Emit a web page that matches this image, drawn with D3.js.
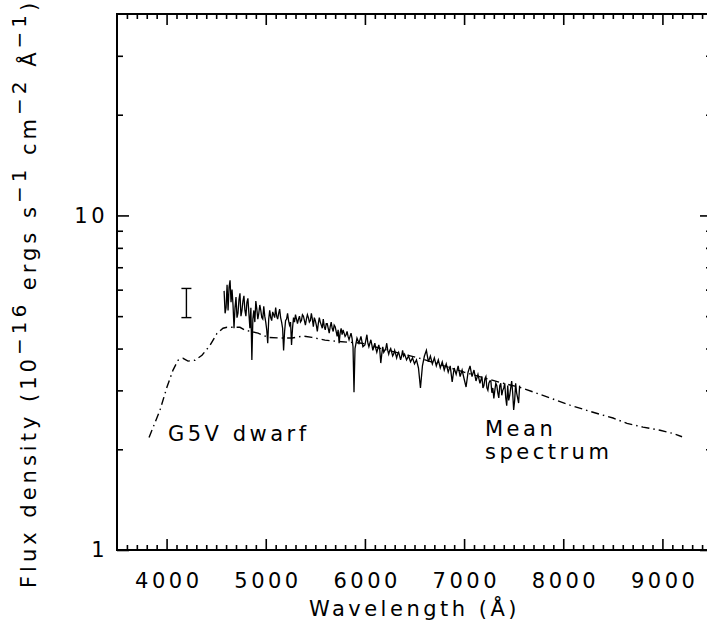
<!DOCTYPE html>
<html>
<head>
<meta charset="utf-8">
<script src="https://cdn.jsdelivr.net/npm/d3@7"></script>
<style>
    body { margin: 0; background: #fff; }
    text { font-family: "DejaVu Sans", sans-serif; font-size: 21px; letter-spacing: 3.5px; fill: #000; }
</style>
</head>
<body>
<svg id="chart" width="707" height="626"></svg>
<script>
// tick values
const xMajorTicks = [4000, 5000, 6000, 7000, 8000, 9000];
const yMajorTicks = [1, 10];
const yMinorTicks = [2, 3, 4, 5, 6, 7, 8, 9, 20, 30];

// G5V dwarf template (dash-dot), [wavelength, flux]
const g5vTemplate = [
    [3823, 2.17], [3934, 2.62], [4004, 3.07], [4065, 3.45], [4115, 3.69], [4166, 3.74],
    [4216, 3.67], [4287, 3.69], [4357, 3.82], [4438, 4.09], [4508, 4.44], [4569, 4.60],
    [4609, 4.63], [4740, 4.63], [4791, 4.54], [4922, 4.45], [5023, 4.32], [5164, 4.30],
    [5265, 4.30], [5376, 4.36], [5466, 4.32], [5597, 4.24], [5698, 4.21], [5829, 4.18],
    [5971, 4.15], [6152, 4.01], [6556, 3.74], [7000, 3.40], [7362, 3.17], [7584, 3.05],
    [8068, 2.71], [8300, 2.58], [8502, 2.48], [8643, 2.39], [8804, 2.33], [8976, 2.28],
    [9107, 2.23], [9198, 2.18]
];

// mean observed spectrum, [wavelength, flux]
const meanSpectrum = [
    [4580, 5.95], [4590, 5.10], [4600, 5.30], [4610, 6.20], [4620, 5.20], [4630, 6.10], [4640, 6.40], [4650, 5.50], [4660, 6.00],
    [4670, 5.40], [4680, 4.60], [4690, 5.30], [4700, 5.70], [4710, 4.95], [4720, 5.10], [4730, 5.60], [4740, 5.85], [4750, 5.00],
    [4760, 5.20], [4770, 5.55], [4780, 5.75], [4790, 5.20], [4800, 5.00], [4810, 5.50], [4820, 5.65], [4830, 5.10], [4840, 4.60],
    [4850, 5.30], [4860, 3.70], [4870, 4.90], [4880, 5.20], [4890, 4.80], [4900, 5.55], [4910, 5.25], [4920, 4.90], [4930, 5.10],
    [4940, 5.40], [4950, 5.20], [4960, 4.95], [4970, 4.90], [4980, 5.35], [4990, 5.00],
    [5000, 4.80], [5010, 4.55], [5020, 4.15], [5030, 4.90], [5040, 5.20], [5050, 4.95], [5060, 4.85], [5070, 5.15], [5080, 5.05],
    [5090, 4.95], [5100, 5.30], [5110, 5.00], [5120, 4.90], [5130, 5.10], [5140, 5.25], [5150, 4.95], [5160, 4.80], [5170, 4.60],
    [5180, 3.95], [5190, 4.50], [5200, 4.85], [5210, 4.90], [5220, 5.10], [5230, 4.85], [5240, 4.70], [5250, 4.80], [5260, 4.10],
    [5270, 4.60], [5280, 4.95], [5290, 4.80], [5300, 5.05], [5310, 4.90], [5320, 4.75], [5330, 4.90], [5340, 5.00], [5350, 4.80],
    [5360, 4.85], [5370, 5.05], [5380, 5.00], [5390, 4.85], [5400, 4.70], [5410, 4.90], [5420, 5.05], [5430, 4.95], [5440, 4.80],
    [5450, 4.85], [5460, 5.10], [5470, 4.90], [5480, 4.65], [5490, 4.95], [5500, 4.85], [5510, 4.70], [5520, 4.50], [5530, 4.75],
    [5540, 4.95], [5550, 4.80], [5560, 4.70], [5570, 4.60], [5580, 4.90], [5590, 4.65], [5600, 4.55], [5610, 4.75], [5620, 4.75],
    [5630, 4.60], [5640, 4.45], [5650, 4.65], [5660, 4.80], [5670, 4.60], [5680, 4.50], [5690, 4.70], [5700, 4.65], [5710, 4.50],
    [5720, 4.35], [5730, 4.55], [5740, 4.15], [5750, 4.45], [5760, 4.60], [5770, 4.40], [5780, 4.55], [5790, 4.45], [5800, 4.35],
    [5810, 4.40], [5820, 4.50], [5830, 4.35], [5840, 4.25], [5850, 4.35], [5860, 4.45], [5870, 4.30], [5880, 4.05], [5890, 2.96],
    [5900, 4.00], [5920, 4.30], [5940, 4.15], [5960, 4.35], [5980, 4.05],
    [6000, 4.10], [6010, 4.25], [6020, 4.40], [6030, 4.15], [6040, 4.05], [6050, 4.15], [6060, 4.25], [6070, 4.10], [6080, 3.95],
    [6090, 4.05], [6100, 4.15], [6110, 4.00], [6120, 3.90], [6130, 4.00], [6140, 4.10], [6150, 3.95], [6160, 3.62], [6170, 3.85],
    [6180, 4.05], [6190, 3.90], [6200, 3.95], [6210, 4.00], [6220, 4.15], [6230, 3.95], [6240, 3.85], [6250, 3.95], [6260, 4.00],
    [6270, 3.90], [6280, 3.80], [6290, 3.85], [6300, 3.95], [6310, 3.85], [6320, 3.75], [6330, 3.85], [6340, 3.90], [6350, 3.80],
    [6360, 3.70], [6370, 3.80], [6380, 3.95], [6390, 3.80],
    [6400, 3.85], [6420, 3.70], [6440, 3.80], [6460, 3.65], [6480, 3.75], [6500, 3.60], [6520, 3.70], [6540, 3.50], [6560, 3.05], [6580, 3.55],
    [6600, 3.80], [6620, 3.95], [6640, 3.65], [6660, 3.80], [6680, 3.60], [6700, 3.75], [6720, 3.55], [6740, 3.70], [6760, 3.50], [6780, 3.65],
    [6800, 3.45], [6820, 3.60], [6840, 3.40], [6860, 3.55], [6880, 3.18], [6900, 3.50], [6920, 3.35], [6940, 3.55], [6960, 3.30], [6980, 3.45],
    [7000, 3.25], [7020, 3.07], [7040, 3.40], [7060, 3.55], [7080, 3.30], [7100, 3.45], [7120, 3.20], [7140, 3.35], [7160, 3.15], [7180, 3.30],
    [7190, 3.05], [7200, 3.10], [7210, 3.25], [7220, 3.30], [7230, 3.05], [7240, 3.00], [7250, 3.15], [7260, 3.20], [7270, 3.20], [7280, 2.95],
    [7290, 3.05], [7300, 2.84], [7310, 3.00], [7320, 3.15], [7330, 3.10], [7340, 2.95], [7350, 2.85], [7360, 3.10], [7370, 3.15], [7380, 2.90],
    [7390, 3.00], [7400, 3.05], [7410, 3.15], [7420, 2.85], [7430, 2.70], [7440, 3.10], [7450, 2.80], [7460, 2.90], [7470, 3.05], [7480, 3.20],
    [7490, 2.95], [7500, 2.62], [7510, 2.80], [7520, 3.15], [7530, 2.95], [7540, 2.85], [7550, 2.75], [7560, 3.10]
];

// typical error bar
const errorBars = [{wave: 4200, low: 4.95, high: 6.05}];

// text labels anchored in data coordinates
const labels = [
    {text: "G5V dwarf", wave: 4014, flux: 2.12},
    {text: "Mean", wave: 7211, flux: 2.19},
    {text: "spectrum", wave: 7211, flux: 1.87}
];

var svg = d3.select("#chart"),
    margin = {top: 14, right: -5, bottom: 76, left: 117},
    width = +svg.attr("width"),
    height = +svg.attr("height");

svg.append("rect").attr("width", width).attr("height", height).attr("fill", "#fff");

var x = d3.scaleLinear()
    .domain([3500, 9500])
    .range([margin.left, width - margin.right]);

var y = d3.scaleLog()
    .domain([1, 40])
    .range([height - margin.bottom, margin.top]);

var x0 = margin.left, x1 = width - margin.right,
    y0 = height - margin.bottom, y1 = margin.top;

var xMinorTicks = d3.range(3600, 9500, 100).filter(function(d) { return d % 1000 !== 0; });

svg.append("clipPath").attr("id", "plot-clip")
    .append("rect")
    .attr("x", x0).attr("y", y1)
    .attr("width", x1 - x0).attr("height", y0 - y1);

// axes, IDL style with inward ticks on all four sides
function styleAxis(g) {
    g.selectAll(".domain").remove();
    g.selectAll(".tick line").attr("stroke", "#000").attr("stroke-width", 1.6);
    g.selectAll(".tick text").attr("font-family", null).attr("font-size", null).attr("fill", "#000");
}

svg.append("g")
    .attr("transform", "translate(0," + y0 + ")")
    .call(d3.axisBottom(x).tickValues(xMajorTicks).tickSize(-11).tickPadding(23).tickFormat(d3.format("d")))
    .call(styleAxis)
    .selectAll(".tick text").attr("dx", "1.75");

svg.append("g")
    .attr("transform", "translate(0," + y0 + ")")
    .call(d3.axisBottom(x).tickValues(xMinorTicks).tickSize(-5).tickFormat(""))
    .call(styleAxis);

svg.append("g")
    .attr("transform", "translate(0," + y1 + ")")
    .call(d3.axisTop(x).tickValues(xMajorTicks).tickSize(-11).tickFormat(""))
    .call(styleAxis);

svg.append("g")
    .attr("transform", "translate(0," + y1 + ")")
    .call(d3.axisTop(x).tickValues(xMinorTicks).tickSize(-5).tickFormat(""))
    .call(styleAxis);

svg.append("g")
    .attr("transform", "translate(" + x0 + ",0)")
    .call(d3.axisLeft(y).tickValues(yMajorTicks).tickSize(-12).tickPadding(9).tickFormat(d3.format("d")))
    .call(styleAxis);

svg.append("g")
    .attr("transform", "translate(" + x0 + ",0)")
    .call(d3.axisLeft(y).tickValues(yMinorTicks).tickSize(-6).tickFormat(""))
    .call(styleAxis);

svg.append("g")
    .attr("transform", "translate(" + x1 + ",0)")
    .call(d3.axisLeft(y).tickValues(yMajorTicks).tickSize(12).tickFormat(""))
    .call(styleAxis);

svg.append("g")
    .attr("transform", "translate(" + x1 + ",0)")
    .call(d3.axisLeft(y).tickValues(yMinorTicks).tickSize(6).tickFormat(""))
    .call(styleAxis);

// frame
svg.append("rect")
    .attr("x", x0).attr("y", y1)
    .attr("width", x1 - x0).attr("height", y0 - y1)
    .attr("fill", "none").attr("stroke", "#000").attr("stroke-width", 2);

var line = d3.line()
    .x(function(d) { return x(d[0]); })
    .y(function(d) { return y(d[1]); });

var plot = svg.append("g").attr("clip-path", "url(#plot-clip)");

plot.append("path")
    .datum(g5vTemplate)
    .attr("fill", "none")
    .attr("stroke", "#000")
    .attr("stroke-width", 1.4)
    .attr("stroke-dasharray", "8,4,1.5,4")
    .attr("d", line);

plot.append("path")
    .datum(meanSpectrum)
    .attr("fill", "none")
    .attr("stroke", "#000")
    .attr("stroke-width", 1.3)
    .attr("stroke-linejoin", "miter")
    .attr("d", line);

// error bar
var eb = plot.selectAll(".errbar").data(errorBars).enter().append("g");
eb.append("line")
    .attr("x1", function(d) { return x(d.wave); }).attr("x2", function(d) { return x(d.wave); })
    .attr("y1", function(d) { return y(d.low); }).attr("y2", function(d) { return y(d.high); });
eb.append("line")
    .attr("x1", function(d) { return x(d.wave) - 5; }).attr("x2", function(d) { return x(d.wave) + 5; })
    .attr("y1", function(d) { return y(d.low); }).attr("y2", function(d) { return y(d.low); });
eb.append("line")
    .attr("x1", function(d) { return x(d.wave) - 5; }).attr("x2", function(d) { return x(d.wave) + 5; })
    .attr("y1", function(d) { return y(d.high); }).attr("y2", function(d) { return y(d.high); });
eb.selectAll("line").attr("stroke", "#000").attr("stroke-width", 1.4);

svg.selectAll(".label")
    .data(labels)
    .enter().append("text")
    .attr("class", "label")
    .attr("x", function(d) { return x(d.wave); })
    .attr("y", function(d) { return y(d.flux); })
    .text(function(d) { return d.text; });

// axis titles
svg.append("text")
    .attr("x", (x0 + 712) / 2)
    .attr("y", 616)
    .attr("text-anchor", "middle")
    .text("Wavelength (\u00c5)");

var ylab = svg.append("text")
    .attr("transform", "translate(36,588) rotate(-90)")
    .attr("text-anchor", "start")
    .style("letter-spacing", "4px");
ylab.append("tspan").text("Flux density (10");
ylab.append("tspan").attr("dy", -10).attr("font-size", 20).text("\u221216");
ylab.append("tspan").attr("dy", 10).text(" ergs s");
ylab.append("tspan").attr("dy", -10).attr("font-size", 20).text("\u22121");
ylab.append("tspan").attr("dy", 10).text(" cm");
ylab.append("tspan").attr("dy", -10).attr("font-size", 20).text("\u22122");
ylab.append("tspan").attr("dy", 10).text(" \u00c5");
ylab.append("tspan").attr("dy", -10).attr("font-size", 20).text("\u22121");
ylab.append("tspan").attr("dy", 10).text(")");
</script>
</body>
</html>
